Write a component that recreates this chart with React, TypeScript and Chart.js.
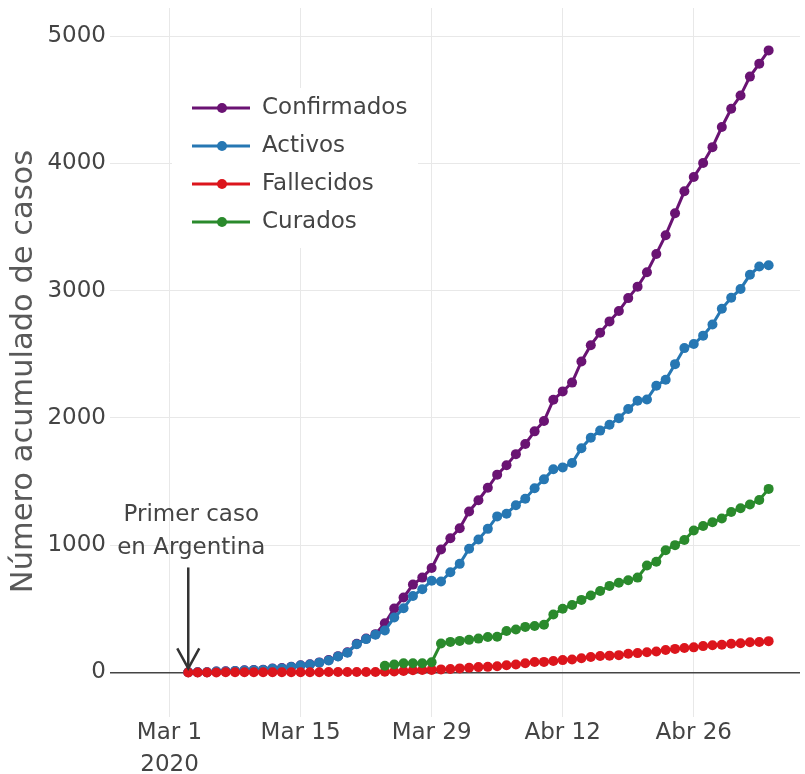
import React, { useEffect, useRef } from "react";
import { Chart, registerables } from "chart.js";

Chart.register(...registerables);

const FONT = "'DejaVu Sans', Verdana, sans-serif";

// Dates (2020), month-day
const dates = [
  "03-03","03-04","03-05","03-06","03-07","03-08","03-09","03-10","03-11","03-12",
  "03-13","03-14","03-15","03-16","03-17","03-18","03-19","03-20","03-21","03-22",
  "03-23","03-24","03-25","03-26","03-27","03-28","03-29","03-30","03-31","04-01",
  "04-02","04-03","04-04","04-05","04-06","04-07","04-08","04-09","04-10","04-11",
  "04-12","04-13","04-14","04-15","04-16","04-17","04-18","04-19","04-20","04-21",
  "04-22","04-23","04-24","04-25","04-26","04-27","04-28","04-29","04-30","05-01",
  "05-02","05-03","05-04",
];

const confirmados = [
  1,1,2,8,9,12,17,19,21,31,
  34,45,56,65,79,97,128,158,225,266,
  301,387,502,589,690,745,820,966,1054,1133,
  1265,1353,1451,1554,1628,1715,1795,1894,1975,2142,
  2208,2277,2443,2571,2669,2758,2839,2941,3031,3144,
  3288,3435,3607,3780,3892,4003,4127,4285,4428,4532,
  4681,4783,4887,
];

const activos = [
  1,1,2,8,8,11,16,18,20,30,
  32,43,54,63,77,94,125,155,221,262,
  297,329,431,505,601,654,720,714,787,853,
  972,1045,1128,1226,1247,1314,1365,1447,1517,1597,
  1611,1645,1762,1844,1900,1946,1998,2069,2134,2145,
  2253,2299,2422,2548,2580,2646,2733,2857,2943,3013,
  3124,3189,3199,
];

const fallecidos = [
  0,0,0,0,1,1,1,1,1,1,
  2,2,2,2,2,3,3,3,4,4,
  4,6,8,12,17,19,20,24,27,32,
  37,42,44,48,56,63,72,82,83,90,
  97,102,111,122,129,132,136,147,152,159,
  165,176,185,192,197,207,214,218,225,229,
  237,239,246,
];

const curados = [
  null,null,null,null,null,null,null,null,null,null,
  null,null,null,null,null,null,null,null,null,null,
  null,52,63,72,72,72,80,228,240,248,
  256,266,279,280,325,338,358,365,375,455,
  500,530,570,605,640,680,705,725,745,840,
  870,960,1000,1040,1115,1150,1180,1210,1260,1290,
  1320,1355,1442,
];

const seriesNames = ["Confirmados", "Activos", "Fallecidos", "Curados"];
const seriesColors = ["#6a1373", "#2677b3", "#dc151c", "#2a8a2c"];

const xTickDates = ["03-01", "03-15", "03-29", "04-12", "04-26"];
const xTickLabels: (string | string[])[] = [["Mar 1", "2020"], "Mar 15", "Mar 29", "Abr 12", "Abr 26"];
const yTickValues = [0, 1000, 2000, 3000, 4000, 5000];

const yTitle = "Número acumulado de casos";
const annotationLines = ["Primer caso", "en Argentina"];

const dayOffset = (md: string) => {
  const [m, d] = md.split("-").map(Number);
  return Math.round((Date.UTC(2020, m - 1, d) - Date.UTC(2020, 2, 1)) / 86400000);
};

const overlayPlugin = {
  id: "overlay",
  afterDraw(chart: any) {
    const ctx = chart.ctx;
    const xs = chart.scales.x;
    const ys = chart.scales.y;
    ctx.save();

    // Y axis title
    ctx.save();
    ctx.translate(24, (chart.chartArea.top + chart.chartArea.bottom) / 2 + 9);
    ctx.rotate(-Math.PI / 2);
    ctx.font = `30.5px ${FONT}`;
    ctx.fillStyle = "#595959";
    ctx.textAlign = "center";
    ctx.textBaseline = "middle";
    ctx.fillText(yTitle, 0, 0);
    ctx.restore();

    // Legend
    const lx = chart.chartArea.left + 62;
    const ly = chart.chartArea.top + 80;
    ctx.fillStyle = "#ffffff";
    ctx.fillRect(lx, ly, 246, 160);
    chart.data.datasets.forEach((ds: any, i: number) => {
      const y = ly + 20 + i * 38;
      ctx.strokeStyle = ds.borderColor;
      ctx.lineWidth = 3;
      ctx.beginPath();
      ctx.moveTo(lx + 20, y);
      ctx.lineTo(lx + 78, y);
      ctx.stroke();
      ctx.fillStyle = ds.borderColor;
      ctx.beginPath();
      ctx.arc(lx + 50, y, 5, 0, Math.PI * 2);
      ctx.fill();
      ctx.fillStyle = "#444";
      ctx.font = `23px ${FONT}`;
      ctx.textAlign = "left";
      ctx.textBaseline = "middle";
      ctx.fillText(ds.label, lx + 90, y);
    });

    // Annotation arrow
    const px = xs.getPixelForValue(dayOffset(dates[0]));
    const py = ys.getPixelForValue(0);
    const tipY = py - 4;
    const tailY = py - 105;
    ctx.strokeStyle = "#333";
    ctx.lineWidth = 2.5;
    ctx.beginPath();
    ctx.moveTo(px, tailY);
    ctx.lineTo(px, tipY);
    ctx.stroke();
    ctx.beginPath();
    ctx.moveTo(px - 11, tipY - 20);
    ctx.lineTo(px, tipY);
    ctx.lineTo(px + 11, tipY - 20);
    ctx.stroke();
    ctx.fillStyle = "#444";
    ctx.font = `23px ${FONT}`;
    ctx.textAlign = "center";
    ctx.textBaseline = "middle";
    annotationLines.forEach((t, i) => {
      ctx.fillText(t, px + 3, py - 157 + i * 33);
    });

    ctx.restore();
  },
};

export default function App() {
  const ref = useRef<HTMLCanvasElement | null>(null);

  useEffect(() => {
    document.body.style.margin = "0";
    const xs = dates.map(dayOffset);
    const series = [confirmados, activos, fallecidos, curados];
    const datasets = series.map((vals, i) => ({
      label: seriesNames[i],
      data: vals.map((v, j) => ({ x: xs[j], y: v })),
      borderColor: seriesColors[i],
      backgroundColor: seriesColors[i],
      pointBackgroundColor: seriesColors[i],
      pointBorderWidth: 0,
      pointRadius: 5,
      borderWidth: 3,
      tension: 0,
      order: 4 - i,
    }));
    const tickVals = xTickDates.map(dayOffset);

    const chart = new Chart(ref.current as HTMLCanvasElement, {
      type: "line",
      data: { datasets } as any,
      options: {
        animation: false,
        responsive: false,
        maintainAspectRatio: false,
        layout: { padding: { top: 8, left: 0, right: 0, bottom: 0 } },
        plugins: { legend: { display: false }, tooltip: { enabled: false } },
        scales: {
          x: {
            type: "linear",
            min: -6.36,
            max: 67.35,
            border: { display: false },
            grid: { color: "#e8e8e8", lineWidth: 1, drawTicks: false },
            afterBuildTicks: (axis: any) => {
              axis.ticks = tickVals.map((v) => ({ value: v }));
            },
            afterFit: (s: any) => {
              s.height = 57;
              s.paddingLeft = 0;
              s.paddingRight = 0;
            },
            ticks: {
              autoSkip: false,
              maxRotation: 0,
              minRotation: 0,
              padding: 1,
              color: "#444",
              font: { family: FONT, size: 23, lineHeight: 1.35 },
              callback: (v: any) => {
                const k = tickVals.indexOf(Number(v));
                return k >= 0 ? xTickLabels[k] : "";
              },
            },
          },
          y: {
            min: -350,
            max: 5220,
            border: { display: false },
            grid: {
              drawTicks: false,
              color: (c: any) => (c.tick && c.tick.value === 0 ? "#444" : "#e8e8e8"),
              lineWidth: (c: any) => (c.tick && c.tick.value === 0 ? 1.6 : 1),
            },
            afterBuildTicks: (axis: any) => {
              axis.ticks = yTickValues.map((v) => ({ value: v }));
            },
            afterFit: (s: any) => {
              s.width = 110;
              s.paddingTop = 0;
              s.paddingBottom = 0;
            },
            ticks: {
              padding: 4,
              color: "#444",
              font: { family: FONT, size: 23 },
              callback: (v: any) => String(v),
            },
          },
        },
      } as any,
      plugins: [overlayPlugin],
    });
    return () => chart.destroy();
  }, []);

  return (
    <div style={{ width: 805, height: 774, background: "#fff" }}>
      <canvas ref={ref} width={805} height={774} style={{ display: "block" }} />
    </div>
  );
}
